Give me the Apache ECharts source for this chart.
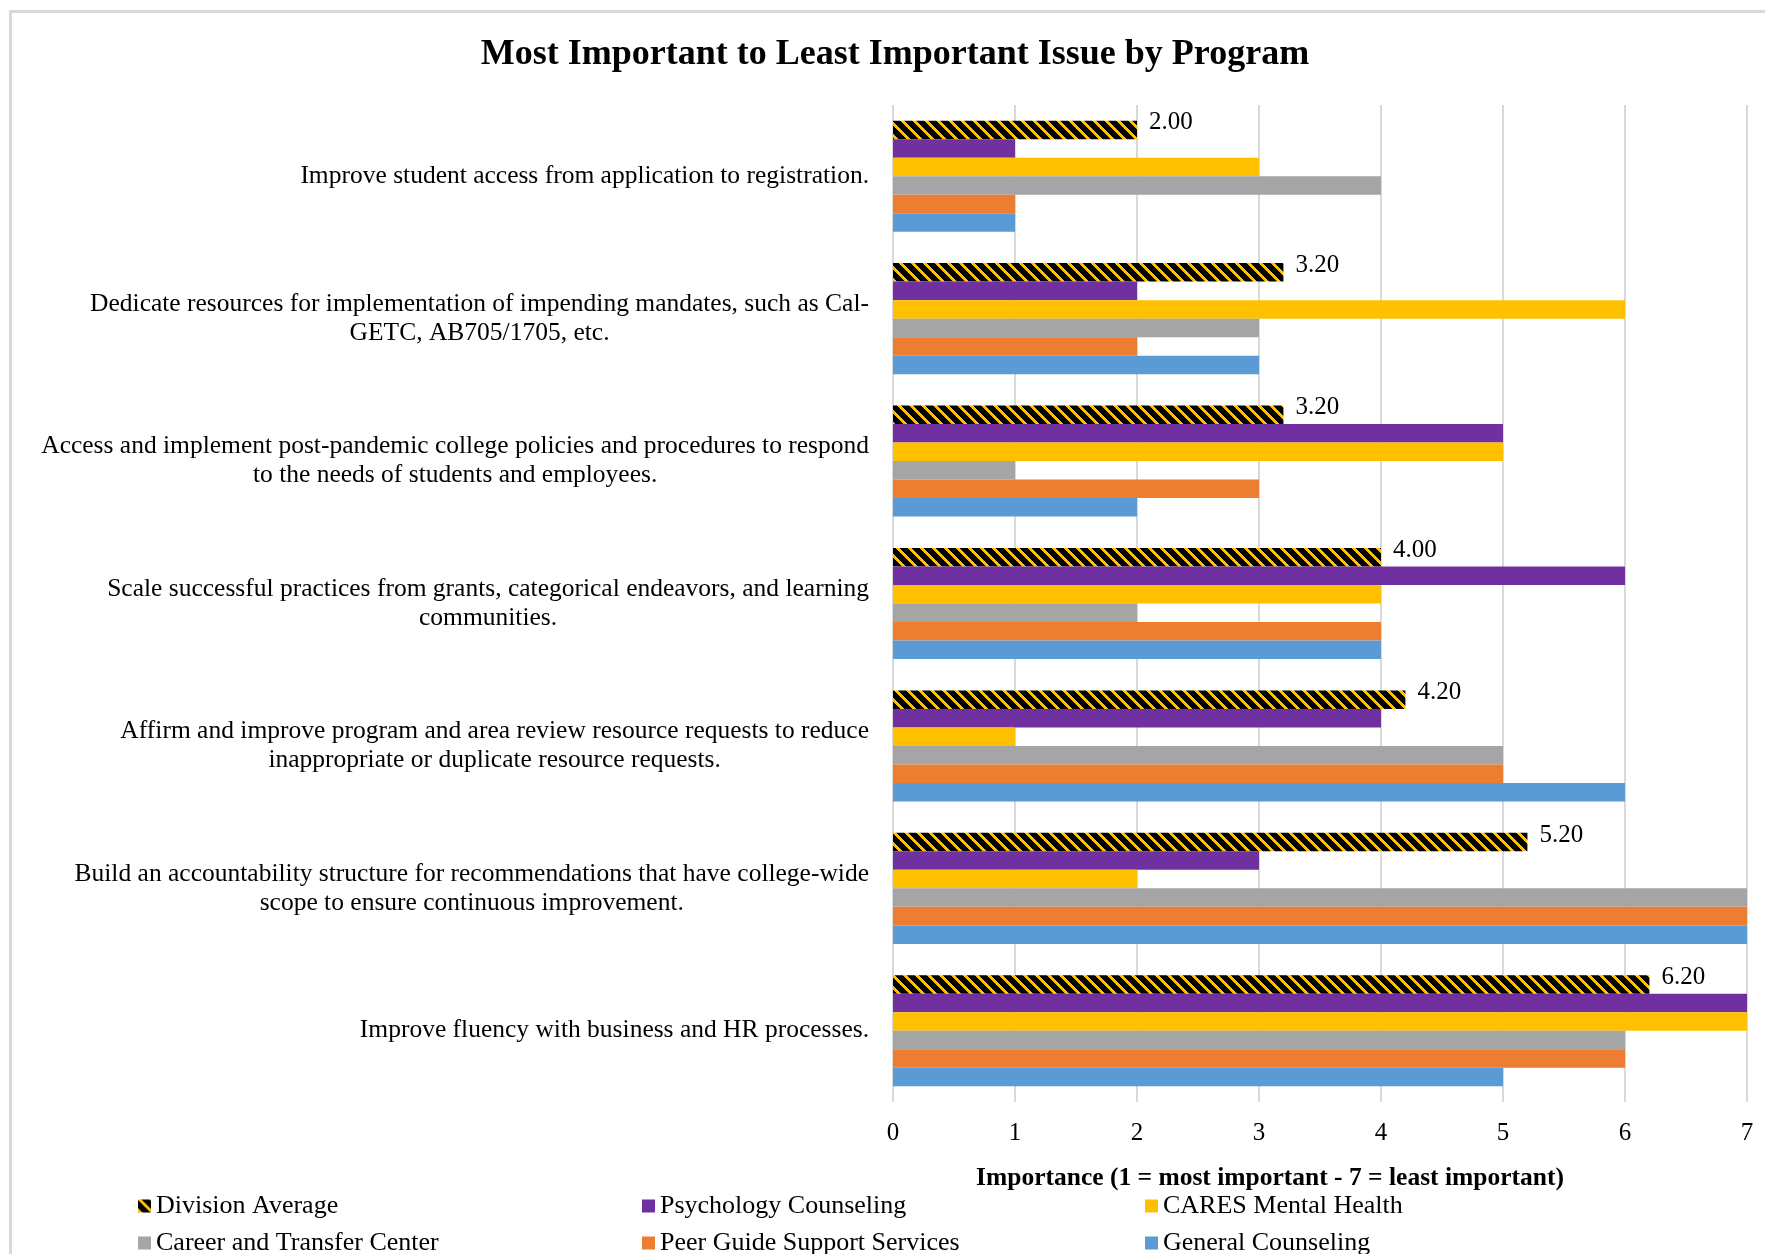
<!DOCTYPE html>
<html>
<head>
<meta charset="utf-8">
<script src="https://cdn.jsdelivr.net/npm/echarts@6/dist/echarts.min.js"></script>
<style>
html,body{margin:0;padding:0;background:#fff;}
#chart{width:1765px;height:1254px;}
</style>
</head>
<body>
<div id="chart"></div>
<script>
const categories = [
  "Improve student access from application to registration.",
  "Dedicate resources for implementation of impending mandates, such as Cal-\nGETC, AB705/1705, etc.",
  "Access and implement post-pandemic college policies and procedures to respond\nto the needs of students and employees.",
  "Scale successful practices from grants, categorical endeavors, and learning\ncommunities.",
  "Affirm and improve program and area review resource requests to reduce\ninappropriate or duplicate resource requests.",
  "Build an accountability structure for recommendations that have college-wide\nscope to ensure continuous improvement.",
  "Improve fluency with business and HR processes."
];
const seriesNames = ["Division Average","Psychology Counseling","CARES Mental Health","Career and Transfer Center","Peer Guide Support Services","General Counseling"];
const divisionAverage = [2.00, 3.20, 3.20, 4.00, 4.20, 5.20, 6.20];
const psychologyCounseling = [1, 2, 5, 6, 4, 3, 7];
const caresMentalHealth = [3, 6, 5, 4, 1, 2, 7];
const careerTransfer = [4, 3, 1, 2, 5, 7, 6];
const peerGuide = [1, 2, 3, 4, 5, 7, 6];
const generalCounseling = [1, 3, 2, 4, 6, 7, 5];
const xTicks = [0, 1, 2, 3, 4, 5, 6, 7];

const FONT = "'Liberation Serif', 'Times New Roman', serif";

function stripePattern() {
  const n = 12;
  const c = document.createElement('canvas');
  c.width = n; c.height = n;
  const ctx = c.getContext('2d');
  const img = ctx.createImageData(n, n);
  for (let j = 0; j < n; j++) {
    for (let i = 0; i < n; i++) {
      const d = (((i - j) % n) + n) % n;
      const k = (j * n + i) * 4;
      if (d < 4) { img.data[k] = 255; img.data[k+1] = 192; img.data[k+2] = 0; }
      else { img.data[k] = 0; img.data[k+1] = 0; img.data[k+2] = 0; }
      img.data[k+3] = 255;
    }
  }
  ctx.putImageData(img, 0, 0);
  return { image: c, repeat: 'repeat' };
}

const colors = [null, '#7030A0', '#FFC000', '#A5A5A5', '#ED7D31', '#5B9BD5'];
const values = [divisionAverage, psychologyCounseling, caresMentalHealth, careerTransfer, peerGuide, generalCounseling];

const series = seriesNames.map((name, idx) => {
  const s = {
    name: name,
    type: 'bar',
    data: values[idx],
    barGap: '0%',
    barCategoryGap: '22%',
    itemStyle: { color: idx === 0 ? stripePattern() : colors[idx] },
    emphasis: { disabled: true },
    animation: false
  };
  if (idx === 0) {
    s.label = {
      show: true,
      position: 'right',
      distance: 12,
      offset: [0, -7],
      formatter: p => Number(p.value).toFixed(2),
      fontFamily: FONT,
      fontSize: 25,
      color: '#000'
    };
  }
  return s;
});

// legend grid: 3 columns x 2 rows
const legendCols = [138, 642, 1145];
const legendRows = [1206, 1243];
const legends = seriesNames.map((name, idx) => ({
  data: [name],
  left: legendCols[idx % 3],
  top: legendRows[Math.floor(idx / 3)] - 13,
  orient: 'horizontal',
  padding: 0,
  itemWidth: 13, itemHeight: 13, icon: 'rect', selectedMode: false,
  textStyle: { fontFamily: FONT, fontSize: 26, color: '#000', lineHeight: 26 }
}));

const chart = echarts.init(document.getElementById('chart'), null, { renderer: 'canvas' });
chart.setOption({
  animation: false,
  backgroundColor: '#fff',
  title: {
    text: 'Most Important to Least Important Issue by Program',
    left: 895,
    textAlign: 'center',
    top: 37,
    padding: 0,
    textStyle: { fontFamily: FONT, fontSize: 36, fontWeight: 'bold', color: '#000' }
  },
  graphic: [{
    type: 'rect',
    shape: { x: 10.5, y: 11.5, width: 1800, height: 1300 },
    style: { fill: null, stroke: '#d9d9d9', lineWidth: 3 },
    silent: true
  }],
  legend: legends,
  grid: { left: 893, right: 18, top: 105, bottom: 152, containLabel: false },
  xAxis: {
    type: 'value',
    min: xTicks[0],
    max: xTicks[xTicks.length - 1],
    interval: 1,
    axisLine: { show: false },
    axisTick: { show: false },
    splitLine: { show: true, lineStyle: { color: '#d9d9d9', width: 2 } },
    axisLabel: { fontFamily: FONT, fontSize: 25, color: '#000', margin: 19 },
    name: 'Importance (1 = most important - 7 = least important)',
    nameLocation: 'middle',
    nameGap: 63,
    nameTextStyle: { fontFamily: FONT, fontSize: 25.5, fontWeight: 'bold', color: '#000', padding: [0, 100, 0, 0] }
  },
  yAxis: {
    type: 'category',
    data: categories,
    inverse: true,
    axisLine: { show: false },
    axisTick: { show: false },
    splitLine: { show: false },
    axisLabel: {
      margin: 24,
      fontFamily: FONT, fontSize: 25.5, color: '#000',
      lineHeight: 29,
      formatter: v => v.split('\n').map(l => '{c|' + l + '}').join('\n'),
      rich: { c: { align: 'center', fontFamily: FONT, fontSize: 25.5, color: '#000', lineHeight: 29 } }
    }
  },
  series: series
});
</script>
</body>
</html>
